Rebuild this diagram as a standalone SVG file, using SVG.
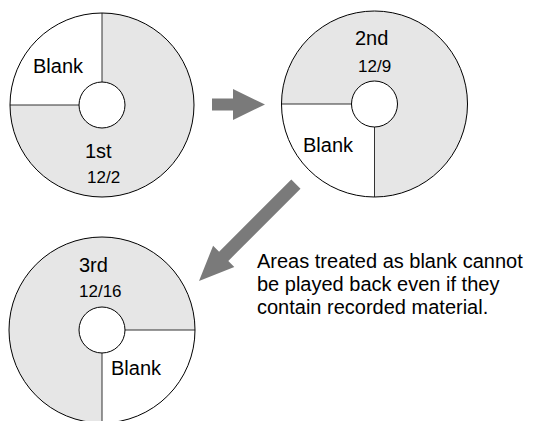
<svg xmlns="http://www.w3.org/2000/svg" width="540" height="421" viewBox="0 0 540 421">
<style>
.disc{fill:#e6e6e6;stroke:none}
.blank{fill:#fff;stroke:none}
.div{stroke:#333;stroke-width:1;fill:none}
.rim{fill:none;stroke:#000;stroke-width:1}
.hole{fill:#fff;stroke:#000;stroke-width:1}
.arrow{fill:#7a7a7a;stroke:none}
text{font-family:"Liberation Sans",Arial,Helvetica,sans-serif;fill:#000}
.lbl{font-size:20px}
.date{font-size:17px}
.note{font-size:20px}
</style>
<rect width="540" height="421" fill="#fff"/>
<g id="disc1">
<circle class="disc" cx="102" cy="105" r="92"/>
<path class="blank" d="M102,105 L10,105 A92,92 0 0 1 102,13 Z"/>
<path class="div" d="M10,105 H102 M102,13 V105"/>
<circle class="hole" cx="102" cy="105" r="23"/>
<circle class="rim" cx="102" cy="105" r="92"/>
<text class="lbl" x="33" y="73">Blank</text>
<text class="lbl" x="85" y="158">1st</text>
<text class="date" x="87" y="183">12/2</text>
</g>
<g id="disc2">
<circle class="disc" cx="374.5" cy="104" r="93"/>
<path class="blank" d="M374.5,104 L281.5,104 A93,93 0 0 0 374.5,197 Z"/>
<path class="div" d="M281.5,104 H374.5 V197"/>
<circle class="hole" cx="374.5" cy="104" r="23"/>
<circle class="rim" cx="374.5" cy="104" r="93"/>
<text class="lbl" x="355" y="45">2nd</text>
<text class="date" x="358" y="72">12/9</text>
<text class="lbl" x="303" y="152">Blank</text>
</g>
<g id="disc3">
<circle class="disc" cx="102" cy="330" r="93"/>
<path class="blank" d="M102,330 L195,330 A93,93 0 0 1 102,423 Z"/>
<path class="div" d="M195,330 H102 V423"/>
<circle class="hole" cx="102" cy="330" r="23"/>
<circle class="rim" cx="102" cy="330" r="93"/>
<text class="lbl" x="79" y="272">3rd</text>
<text class="date" x="79" y="297">12/16</text>
<text class="lbl" x="111" y="375">Blank</text>
</g>
<g id="connectors">
<polygon class="arrow" points="212,98.5 233,98.5 233,89 265,104.5 233,120 233,110.5 212,110.5"/>
<polygon class="arrow" points="199,281 234.3,266.9 228.3,260.9 300.5,188.7 291.3,179.5 219.1,251.7 213.1,245.7"/>
</g>
<g id="note">
<text class="note" x="257" y="268">Areas treated as blank cannot</text>
<text class="note" x="257" y="291">be played back even if they</text>
<text class="note" x="257" y="314">contain recorded material.</text>
</g>
</svg>
